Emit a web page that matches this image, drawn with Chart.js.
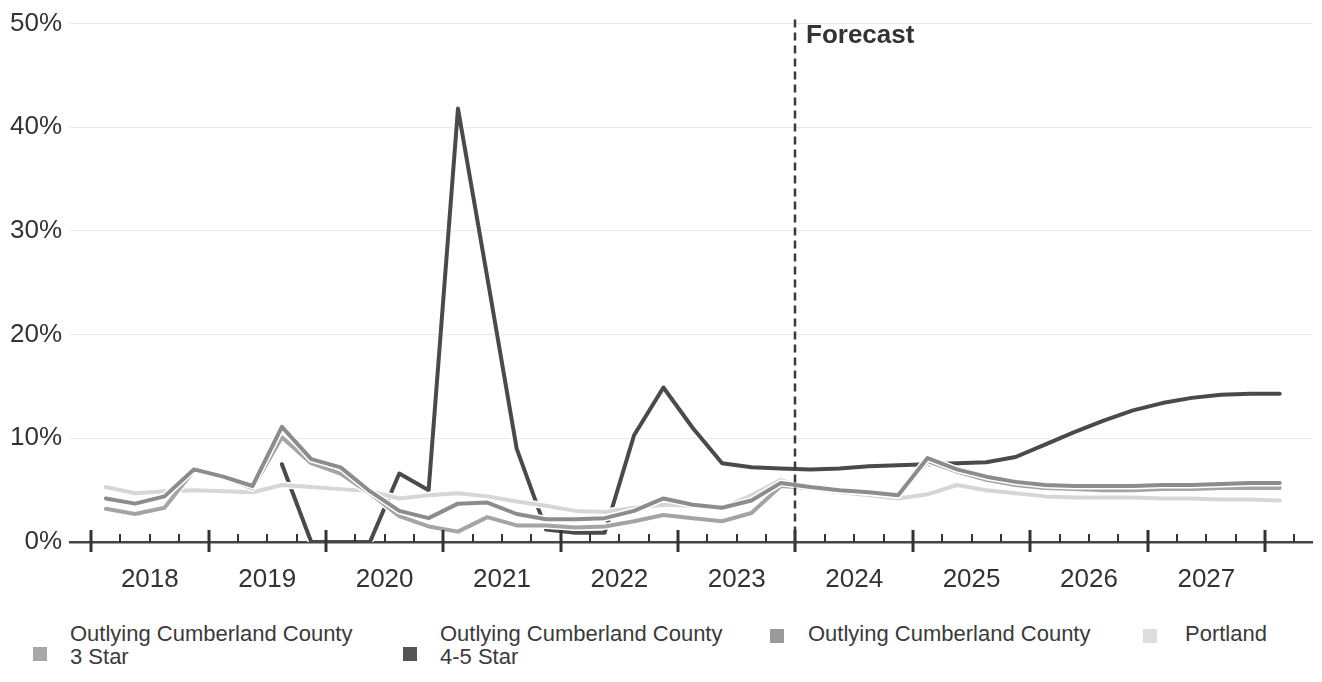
<!DOCTYPE html>
<html>
<head>
<meta charset="utf-8">
<script src="https://cdn.jsdelivr.net/npm/chart.js@4.4.1/dist/chart.umd.min.js"></script>
<style>
  html, body { margin: 0; padding: 0; background: #fff; }
  body { width: 1322px; height: 682px; position: relative; overflow: hidden;
         font-family: "Liberation Sans", Arial, sans-serif; color: #3a3a3a; }
  #wrap { position: absolute; left: 0; top: 0; width: 1322px; height: 600px; }
  #legend { position: absolute; left: 0; top: 622px; width: 1322px; height: 60px; }
  .item { position: absolute; top: 0; }
  .swatch { position: absolute; width: 14px; height: 14px; }
  .label { position: absolute; font-size: 22px; line-height: 23px; white-space: nowrap; }
</style>
</head>
<body>
<div id="wrap"><canvas id="chart"></canvas></div>
<div id="legend"></div>
<script>
"use strict";

// quarterly vacancy, 2018 Q1 .. 2028 Q1 (forecast from 2024 Q1)
const quarters = [
  "2018 Q1", "2018 Q2", "2018 Q3", "2018 Q4",
  "2019 Q1", "2019 Q2", "2019 Q3", "2019 Q4",
  "2020 Q1", "2020 Q2", "2020 Q3", "2020 Q4",
  "2021 Q1", "2021 Q2", "2021 Q3", "2021 Q4",
  "2022 Q1", "2022 Q2", "2022 Q3", "2022 Q4",
  "2023 Q1", "2023 Q2", "2023 Q3", "2023 Q4",
  "2024 Q1", "2024 Q2", "2024 Q3", "2024 Q4",
  "2025 Q1", "2025 Q2", "2025 Q3", "2025 Q4",
  "2026 Q1", "2026 Q2", "2026 Q3", "2026 Q4",
  "2027 Q1", "2027 Q2", "2027 Q3", "2027 Q4",
  "2028 Q1",
];
const yearLabels = ["2018", "2019", "2020", "2021", "2022", "2023", "2024", "2025", "2026", "2027"];
const forecastStart = "2024 Q1";

const star3 = [
  3.2, 2.7, 3.3, 6.9, 6.2, 5.2, 10.1, 7.6, 6.6, 4.7,
  2.5, 1.5, 1.0, 2.4, 1.6, 1.6, 1.4, 1.5, 2.0, 2.6,
  2.3, 2.0, 2.8, 5.4, 5.2, 5.0, 4.8, 4.5, 7.8, 6.8,
  6.0, 5.5, 5.2, 5.1, 5.0, 5.0, 5.1, 5.1, 5.2, 5.2,
  5.2,
];
const star45 = [
  null, null, null, null, null, null, 7.5, 0, 0, 0,
  6.6, 5.0, 41.8, 25.5, 9.0, 1.2, 0.9, 0.9, 10.3, 14.9,
  11.0, 7.6, 7.2, 7.1, 7.0, 7.1, 7.3, 7.4, 7.5, 7.6,
  7.7, 8.2, 9.4, 10.6, 11.7, 12.7, 13.4, 13.9, 14.2, 14.3,
  14.3,
];
const overall = [
  4.2, 3.7, 4.4, 7.0, 6.3, 5.4, 11.1, 8.0, 7.2, 4.9,
  3.0, 2.3, 3.7, 3.8, 2.7, 2.2, 2.2, 2.3, 3.0, 4.2,
  3.6, 3.3, 4.0, 5.7, 5.3, 5.0, 4.8, 4.5, 8.1, 7.0,
  6.3, 5.8, 5.5, 5.4, 5.4, 5.4, 5.5, 5.5, 5.6, 5.7,
  5.7,
];
const portland = [
  5.3, 4.7, 4.9, 5.0, 4.9, 4.8, 5.5, 5.3, 5.1, 4.9,
  4.2, 4.5, 4.7, 4.4, 3.9, 3.5, 3.0, 2.9, 3.3, 3.6,
  3.5, 3.3, 4.5, 6.0, 5.1, 4.8, 4.5, 4.2, 4.6, 5.5,
  5.0, 4.7, 4.4, 4.3, 4.3, 4.3, 4.2, 4.2, 4.1, 4.1,
  4.0,
];

const series = [
  { name: ["Outlying Cumberland County", "3 Star"], data: star3, color: "#a4a4a4", swatch: "#a8a8a8", order: 2 },
  { name: ["Outlying Cumberland County", "4-5 Star"], data: star45, color: "#4a4a4a", swatch: "#555555", order: 4 },
  { name: ["Outlying Cumberland County"], data: overall, color: "#8c8c8c", swatch: "#9a9a9a", order: 1 },
  { name: ["Portland"], data: portland, color: "#d6d6d6", swatch: "#dddddd", order: 3 },
];

// "2019 Q3" -> 2019.625 (middle of the quarter)
const qValue = (label) => +label.slice(0, 4) + (+label.slice(6) - 0.5) / 4;
const firstYear = +quarters[0].slice(0, 4);

Chart.defaults.font.family = '"Liberation Sans", Arial, sans-serif';
Chart.defaults.color = "#333";

// white halo under each line so crossings look like the original
const halo = {
  id: "halo",
  beforeDatasetDraw(chart, args) {
    const pts = args.meta.data;
    const { ctx, chartArea: a } = chart;
    ctx.save();
    ctx.beginPath();
    ctx.rect(a.left, a.top - 5, a.right - a.left, a.bottom - a.top + 5);
    ctx.clip();
    ctx.strokeStyle = "#fff";
    ctx.lineWidth = chart.data.datasets[args.index].borderWidth + 3;
    ctx.lineJoin = "round";
    ctx.beginPath();
    let pen = false;
    for (const p of pts) {
      if (p.skip) { pen = false; continue; }
      if (pen) ctx.lineTo(p.x, p.y); else ctx.moveTo(p.x, p.y);
      pen = true;
    }
    ctx.stroke();
    ctx.restore();
  },
};

// quarter / year tick marks on the time axis + forecast divider
const axisMarks = {
  id: "axisMarks",
  afterDraw(chart) {
    const { ctx, chartArea: a, scales: { x } } = chart;
    ctx.save();
    ctx.strokeStyle = "#333";
    for (let b = 0; b <= quarters.length; b++) {
      const px = Math.round(x.getPixelForValue(firstYear + b / 4));
      const major = b % 4 === 0;
      ctx.lineWidth = major ? 3 : 2;
      ctx.beginPath();
      ctx.moveTo(px, a.bottom - (major ? 12 : 8));
      ctx.lineTo(px, a.bottom + (major ? 10 : 0));
      ctx.stroke();
    }
    const fx = Math.round(x.getPixelForValue(qValue(forecastStart) - 0.125));
    ctx.lineWidth = 2.5;
    ctx.strokeStyle = "#3a3a3a";
    ctx.setLineDash([8, 5]);
    ctx.beginPath();
    ctx.moveTo(fx, a.top - 4);
    ctx.lineTo(fx, a.bottom + 3);
    ctx.stroke();
    ctx.setLineDash([]);
    ctx.fillStyle = "#333";
    ctx.font = 'bold 26px "Liberation Sans", Arial, sans-serif';
    ctx.textBaseline = "middle";
    ctx.fillText("Forecast", fx + 11, 36);
    ctx.restore();
  },
};

new Chart(document.getElementById("chart"), {
  type: "line",
  data: {
    datasets: series.map((s) => ({
      label: s.name.join(" "),
      data: s.data.map((v, i) => ({ x: qValue(quarters[i]), y: v })),
      borderColor: s.color,
      backgroundColor: s.color,
      borderWidth: 4,
      borderJoinStyle: "round",
      borderCapStyle: "round",
      pointRadius: 0,
      tension: 0,
      spanGaps: false,
      order: s.order,
    })),
  },
  options: {
    responsive: true,
    maintainAspectRatio: false,
    animation: false,
    layout: { padding: { top: 9, right: 10, left: 0, bottom: 0 } },
    plugins: { legend: { display: false }, tooltip: { enabled: false } },
    scales: {
      x: {
        type: "linear",
        min: 2017.82,
        max: 2028.4,
        afterBuildTicks: (s) => { s.ticks = yearLabels.map((y) => ({ value: +y + 0.5 })); },
        afterFit: (s) => { s.height = 58; },
        ticks: {
          callback: (v) => String(Math.floor(v)),
          font: { size: 26 },
          color: "#333",
          padding: 14,
          maxRotation: 0,
          autoSkip: false,
        },
        grid: { display: false },
        border: { display: true, color: "#444", width: 2.5 },
      },
      y: {
        min: 0,
        max: 50,
        afterFit: (s) => { s.width = 70; },
        ticks: { stepSize: 10, callback: (v) => v + "%", font: { size: 26 }, color: "#333", padding: 8 },
        grid: {
          color: (c) => (c.tick && c.tick.value === 0 ? "rgba(0,0,0,0)" : "#e8e8e8"),
          lineWidth: 1,
          drawTicks: false,
        },
        border: { display: false },
      },
    },
  },
  plugins: [halo, axisMarks],
});

// HTML legend, laid out like the original
const legendPos = [
  { sw: 33, tx: 70 },
  { sw: 403, tx: 440 },
  { sw: 770, tx: 808 },
  { sw: 1143, tx: 1185 },
];
const legend = document.getElementById("legend");
series.forEach((s, i) => {
  const item = document.createElement("div");
  item.className = "item";
  const sw = document.createElement("div");
  sw.className = "swatch";
  sw.style.left = legendPos[i].sw + "px";
  sw.style.top = (s.name.length > 1 ? 25 : 7) + "px";
  sw.style.background = s.swatch;
  const lb = document.createElement("div");
  lb.className = "label";
  lb.style.left = legendPos[i].tx + "px";
  lb.innerHTML = s.name.join("<br>");
  item.append(sw, lb);
  legend.append(item);
});
</script>
</body>
</html>
